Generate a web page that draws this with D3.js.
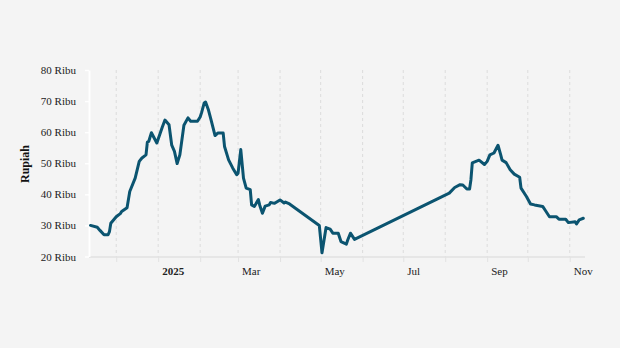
<!DOCTYPE html>
<html>
<head>
<meta charset="utf-8">
<script src="https://cdn.jsdelivr.net/npm/d3@7"></script>
<style>
  html, body { margin: 0; padding: 0; background: #f4f4f4; }
  svg { display: block; }
</style>
</head>
<body>
<div id="chart"></div>
<script>
const dates = [
  "2024-11-12","2024-11-17","2024-11-19","2024-11-22","2024-11-25","2024-11-26","2024-11-27",
  "2024-12-01","2024-12-04","2024-12-05","2024-12-09","2024-12-11","2024-12-15","2024-12-18",
  "2024-12-20","2024-12-23","2024-12-24","2024-12-25","2024-12-27","2024-12-31",
  "2025-01-04","2025-01-06","2025-01-09","2025-01-11","2025-01-13","2025-01-15","2025-01-17",
  "2025-01-20","2025-01-23","2025-01-25","2025-01-30","2025-02-01","2025-02-02","2025-02-04",
  "2025-02-05","2025-02-07","2025-02-09","2025-02-12","2025-02-14","2025-02-18","2025-02-19",
  "2025-02-22","2025-02-25","2025-02-28","2025-03-01","2025-03-03","2025-03-05","2025-03-07",
  "2025-03-10","2025-03-11","2025-03-13","2025-03-16","2025-03-17","2025-03-19","2025-03-21",
  "2025-03-24","2025-03-25","2025-03-28","2025-04-01","2025-04-04","2025-04-05","2025-04-08",
  "2025-04-30","2025-05-02","2025-05-05","2025-05-08","2025-05-10","2025-05-14","2025-05-16",
  "2025-05-20","2025-05-21","2025-05-23","2025-05-26",
  "2025-08-04","2025-08-08","2025-08-12","2025-08-14","2025-08-17","2025-08-19","2025-08-20",
  "2025-08-21","2025-08-26","2025-08-30","2025-09-01","2025-09-03","2025-09-06","2025-09-09",
  "2025-09-11","2025-09-12","2025-09-15","2025-09-18","2025-09-21","2025-09-25","2025-09-26",
  "2025-09-30","2025-10-03","2025-10-06","2025-10-12","2025-10-14","2025-10-17","2025-10-22",
  "2025-10-24","2025-10-29","2025-10-31","2025-11-05","2025-11-06","2025-11-08","2025-11-11"
];
const prices = [
  30.0,29.4,28.4,27.0,27.0,28.0,30.7,
  32.8,33.8,34.5,35.7,40.9,45.2,50.6,
  51.7,52.7,56.8,57.0,59.8,56.5,
  61.6,63.9,62.4,55.8,53.8,49.9,52.7,
  62.2,64.6,63.5,63.5,64.9,66.2,69.4,
  69.7,67.3,64.0,58.9,59.7,59.7,55.4,
  51.1,48.5,46.3,46.8,54.4,45.2,42.0,
  41.5,36.6,36.1,38.3,36.5,33.9,36.2,
  36.6,37.4,37.1,38.2,37.2,37.5,36.9,
  30.0,21.2,29.3,28.8,27.5,27.5,24.8,
  24.0,25.3,27.5,25.5,
  40.4,42.2,43.1,43.0,41.7,41.7,44.7,
  50.1,51.0,49.6,50.6,52.7,53.3,55.8,
  52.7,51.0,50.2,47.9,46.5,45.5,42.0,
  39.3,36.9,36.6,36.1,34.8,32.8,32.8,
  32.0,32.0,30.9,31.2,30.5,31.8,32.3
];
const yTicks = [20, 30, 40, 50, 60, 70, 80];
const yTickSuffix = " Ribu";
const yLabel = "Rupiah";
const xLabelMonths = ["2025-01-01","2025-03-01","2025-05-01","2025-07-01","2025-09-01","2025-11-01"];

const W = 620, H = 348;
const parse = d3.utcParse("%Y-%m-%d");
const data = dates.map((d, i) => ({ date: parse(d), value: prices[i] }));

const svg = d3.select("#chart").append("svg")
  .attr("width", W).attr("height", H)
  .style("background", "#f4f4f4");

const x = d3.scaleUtc()
  .domain(d3.extent(data, d => d.date))
  .range([90.5, 583.3]);
const y = d3.scaleLinear()
  .domain([20, 80])
  .range([256.5, 70]);

const serif = "'Liberation Serif', 'Times New Roman', serif";

// vertical dashed gridlines, monthly
const months = d3.utcMonth.range(d3.utcMonth.ceil(x.domain()[0]), x.domain()[1]);
svg.append("g").selectAll("line").data(months).join("line")
  .attr("x1", d => x(d)).attr("x2", d => x(d))
  .attr("y1", 70).attr("y2", 257)
  .attr("stroke", "#dcdcdc").attr("stroke-width", 1)
  .attr("stroke-dasharray", "3,3");

// x axis
const labelSet = new Set(xLabelMonths.map(s => parse(s).getTime()));
const xAxis = d3.axisBottom(x)
  .tickValues(months)
  .tickSize(5)
  .tickSizeOuter(0)
  .tickPadding(5)
  .tickFormat(d => labelSet.has(d.getTime())
     ? (d.getUTCMonth() === 0 ? d3.utcFormat("%Y")(d) : d3.utcFormat("%b")(d)) : "");
const gx = svg.append("g").attr("transform", "translate(0,257)").call(xAxis);
gx.select(".domain").remove();
gx.append("line").attr("x1", 89).attr("x2", 585).attr("y1", 0).attr("y2", 0)
  .attr("stroke", "#e2e2e2").attr("stroke-width", 1.5);
gx.selectAll(".tick line").attr("stroke", "#e2e2e2");
gx.selectAll(".tick text")
  .attr("fill", "#222")
  .attr("text-anchor", "start")
  .attr("dx", 3.5)
  .style("font-family", serif)
  .style("font-size", "11px")
  .style("font-weight", d => d.getUTCMonth() === 0 ? "bold" : "normal");

// y axis
const yAxis = d3.axisLeft(y)
  .tickValues(yTicks)
  .tickSize(4)
  .tickSizeOuter(0)
  .tickPadding(9)
  .tickFormat(d => d + yTickSuffix);
const gy = svg.append("g").attr("transform", "translate(89,0)").call(yAxis);
gy.select(".domain").attr("stroke", "#ffffff").attr("stroke-width", 2);
gy.selectAll(".tick line").attr("stroke", "#ffffff").attr("stroke-width", 1.5);
gy.selectAll(".tick text")
  .attr("fill", "#222")
  .style("font-family", serif)
  .style("font-size", "11px");

svg.append("text")
  .attr("transform", "translate(29,164) rotate(-90)")
  .attr("text-anchor", "middle")
  .style("font-family", serif)
  .style("font-size", "12px")
  .style("font-weight", "bold")
  .attr("fill", "#111")
  .text(yLabel);

// line
const line = d3.line()
  .x(d => x(d.date))
  .y(d => y(d.value));
svg.append("path")
  .datum(data)
  .attr("d", line)
  .attr("fill", "none")
  .attr("stroke", "#0b5470")
  .attr("stroke-width", 3)
  .attr("stroke-linejoin", "round")
  .attr("stroke-linecap", "round");
</script>
</body>
</html>
